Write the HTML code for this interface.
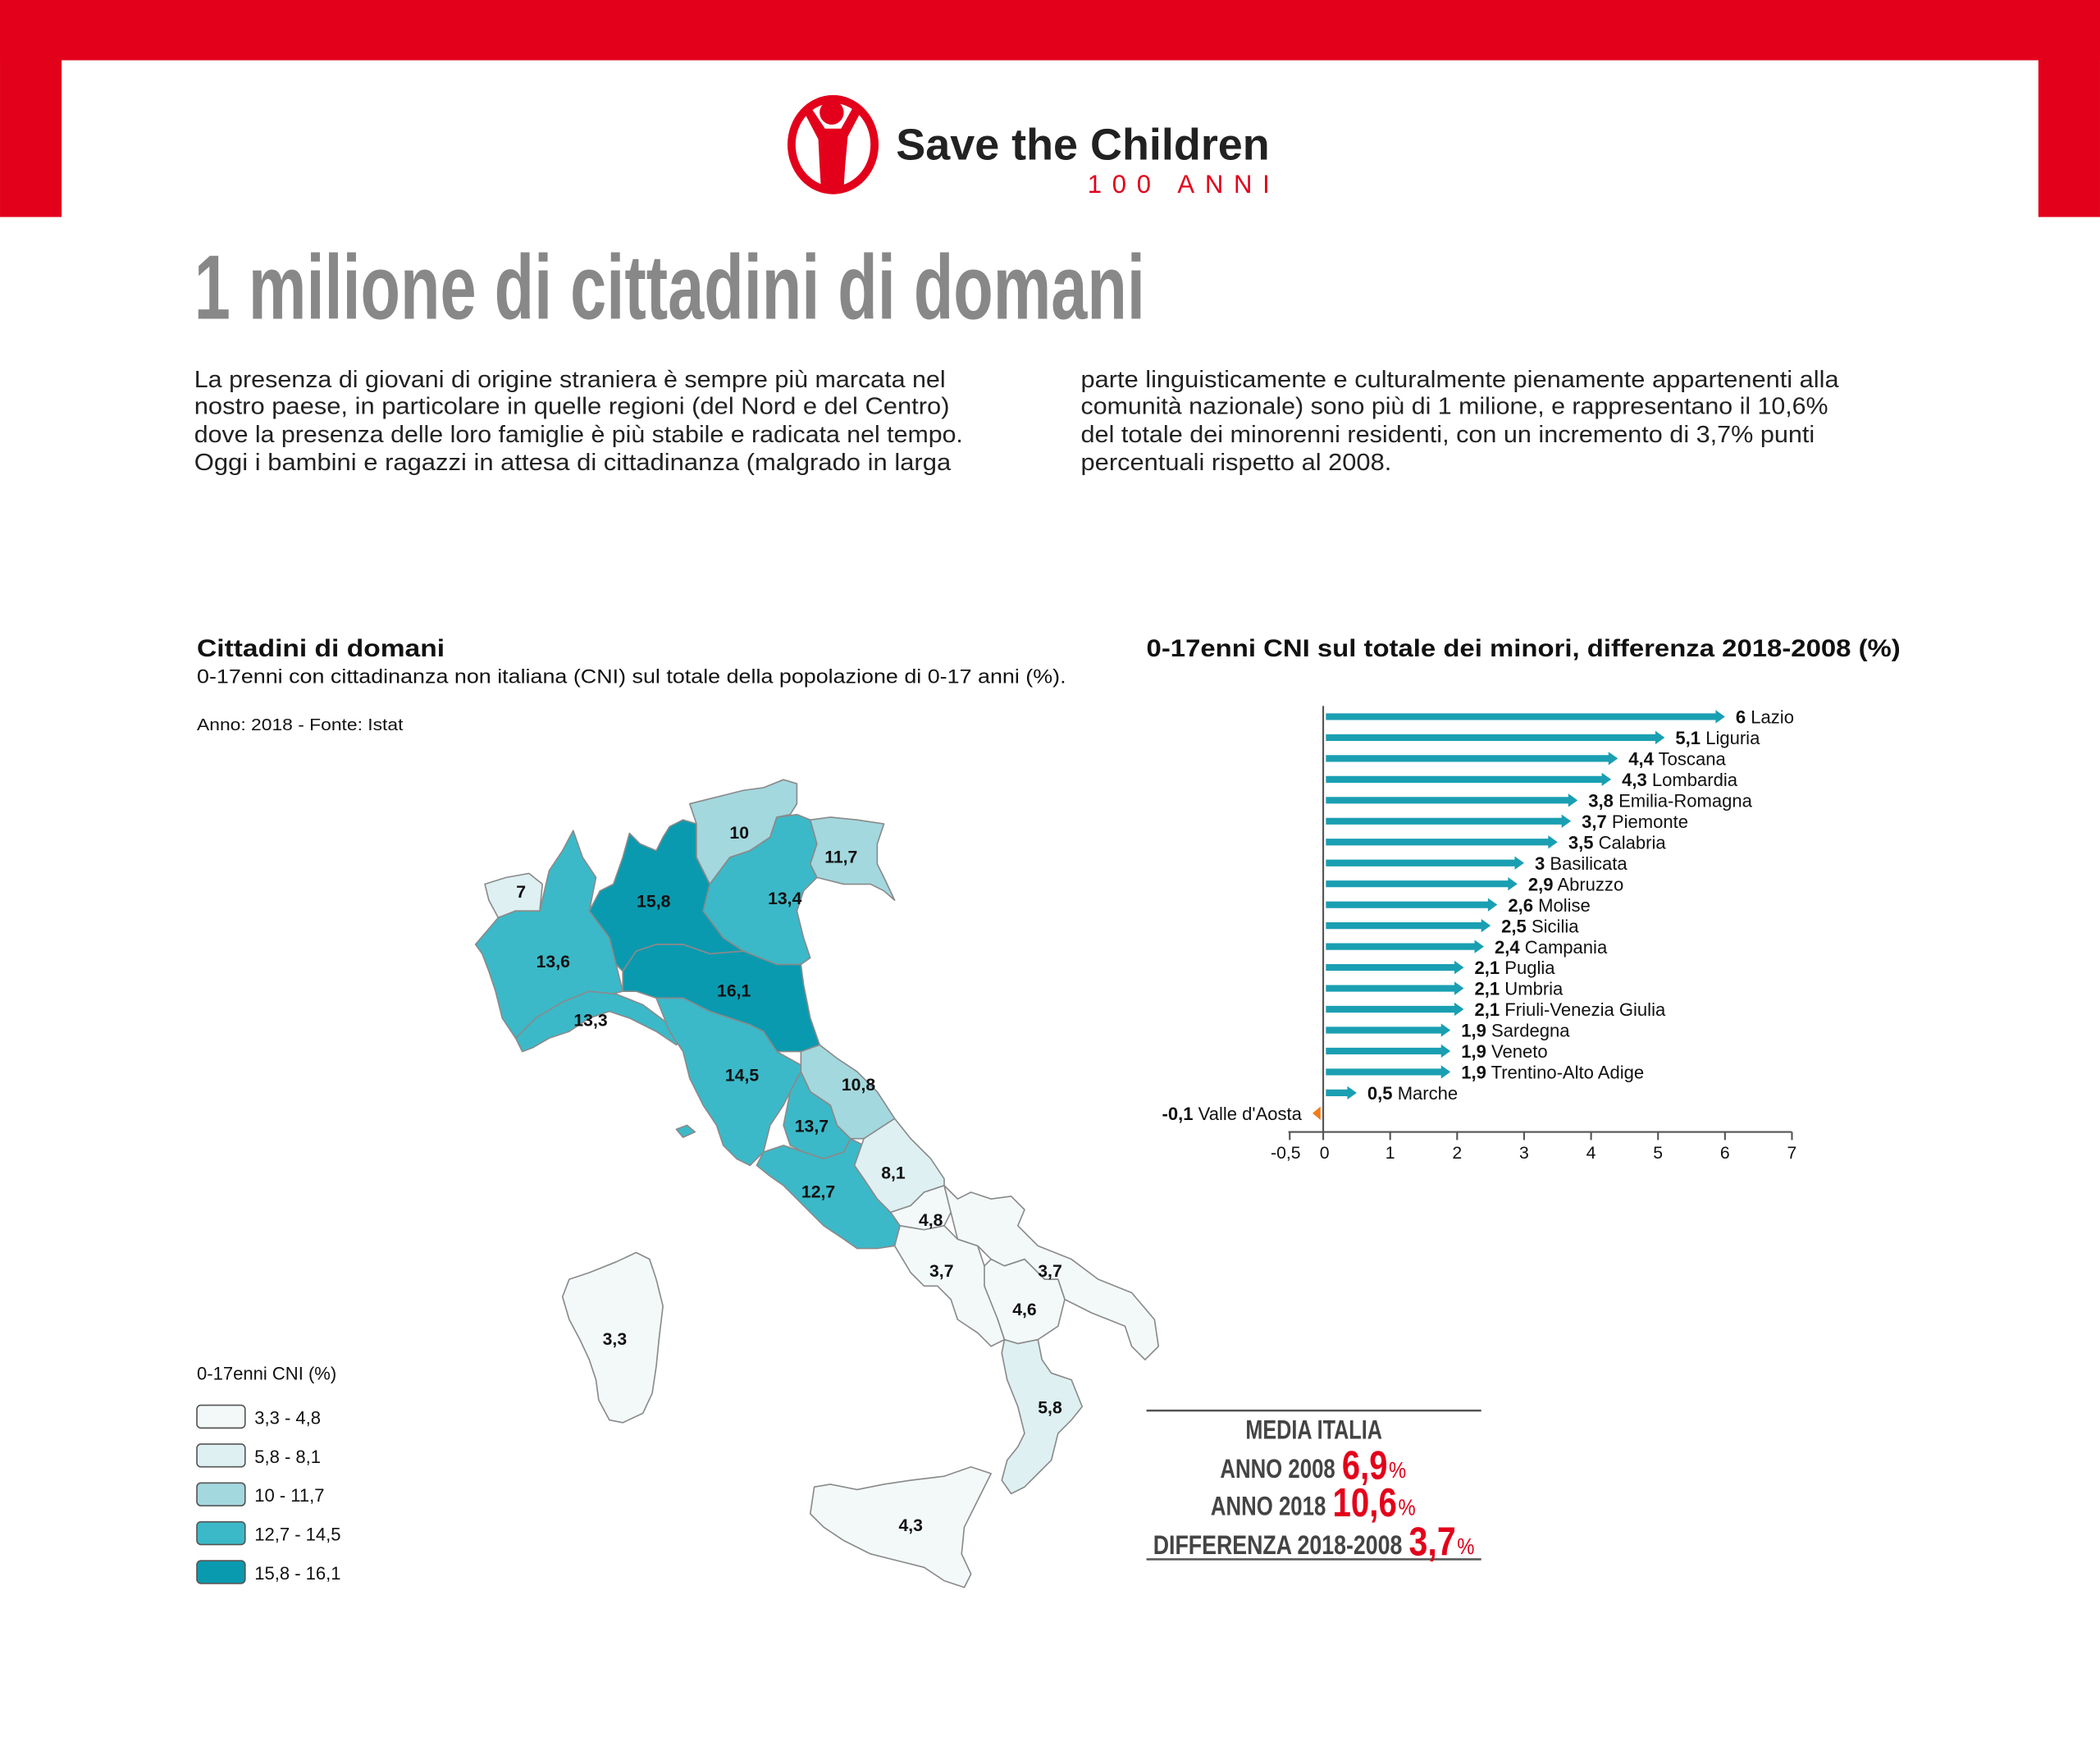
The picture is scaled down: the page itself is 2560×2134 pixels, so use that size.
<!DOCTYPE html>
<html><head><meta charset="utf-8">
<style>html,body{margin:0;padding:0;background:#fff}svg{display:block}</style>
</head><body>
<svg width="2560" height="2134" viewBox="0 0 1568 1307.1" xmlns="http://www.w3.org/2000/svg" font-family="'Liberation Sans', sans-serif">
<rect x="0" y="0" width="1568" height="1308" fill="#fff"/>
<rect x="0" y="0" width="1568" height="45" fill="#e2001a"/>
<rect x="0" y="0" width="46" height="162" fill="#e2001a"/>
<rect x="1522" y="0" width="46" height="162" fill="#e2001a"/>

<!-- logo -->
<ellipse cx="622" cy="108" rx="31" ry="34" fill="none" stroke="#e2001a" stroke-width="6"/>
<circle cx="621" cy="84" r="9" fill="#e2001a"/>
<path d="M600 83 L606 81 L616 96 L628 96 L637 80 L643 83 L633 102 L631 124 L630 140 L613 140 L612 124 L611 104 Z" fill="#e2001a"/>
<text x="669" y="119" font-size="33" font-weight="bold" fill="#222" textLength="279" lengthAdjust="spacingAndGlyphs">Save the Children</text>
<text x="812" y="144" font-size="19" fill="#e2001a" textLength="136" lengthAdjust="spacing">100 ANNI</text>

<!-- headline -->
<text x="145" y="238" font-size="68" font-weight="bold" fill="#888" textLength="710" lengthAdjust="spacingAndGlyphs">1 milione di cittadini di domani</text>

<g font-size="17.5" fill="#222">
<text x="145" y="289" textLength="561" lengthAdjust="spacingAndGlyphs">La presenza di giovani di origine straniera è sempre più marcata nel</text>
<text x="145" y="309" textLength="564" lengthAdjust="spacingAndGlyphs">nostro paese, in particolare in quelle regioni (del Nord e del Centro)</text>
<text x="145" y="330" textLength="574" lengthAdjust="spacingAndGlyphs">dove la presenza delle loro famiglie è più stabile e radicata nel tempo.</text>
<text x="145" y="351" textLength="565" lengthAdjust="spacingAndGlyphs">Oggi i bambini e ragazzi in attesa di cittadinanza (malgrado in larga</text>
<text x="807" y="289" textLength="566" lengthAdjust="spacingAndGlyphs">parte linguisticamente e culturalmente pienamente appartenenti alla</text>
<text x="807" y="309" textLength="558" lengthAdjust="spacingAndGlyphs">comunità nazionale) sono più di 1 milione, e rappresentano il 10,6%</text>
<text x="807" y="330" textLength="548" lengthAdjust="spacingAndGlyphs">del totale dei minorenni residenti, con un incremento di 3,7% punti</text>
<text x="807" y="351" textLength="232" lengthAdjust="spacingAndGlyphs">percentuali rispetto al 2008.</text>
</g>

<!-- left titles -->
<text x="147" y="490" font-size="18" font-weight="bold" fill="#111" textLength="185" lengthAdjust="spacingAndGlyphs">Cittadini di domani</text>
<text x="147" y="510" font-size="15" fill="#111" textLength="649" lengthAdjust="spacingAndGlyphs">0-17enni con cittadinanza non italiana (CNI) sul totale della popolazione di 0-17 anni (%).</text>
<text x="147" y="545" font-size="12.5" fill="#111" textLength="154" lengthAdjust="spacingAndGlyphs">Anno: 2018 - Fonte: Istat</text>

<!-- legend -->
<text x="147" y="1030" font-size="13.5" fill="#111">0-17enni CNI (%)</text>
<g stroke="#555" stroke-width="1">
<rect x="147" y="1049" width="36" height="17" rx="3" fill="#f3f8f8"/>
<rect x="147" y="1078" width="36" height="17" rx="3" fill="#dff0f2"/>
<rect x="147" y="1107" width="36" height="17" rx="3" fill="#a3d8df"/>
<rect x="147" y="1136" width="36" height="17" rx="3" fill="#3bb9c9"/>
<rect x="147" y="1165" width="36" height="17" rx="3" fill="#0a9aaf"/>
</g>
<g font-size="13.5" fill="#111">
<text x="190" y="1063">3,3 - 4,8</text>
<text x="190" y="1092">5,8 - 8,1</text>
<text x="190" y="1121">10 - 11,7</text>
<text x="190" y="1150">12,7 - 14,5</text>
<text x="190" y="1179">15,8 - 16,1</text>
</g>

<!-- map -->
<g stroke="#8a8a8a" stroke-width="1" stroke-linejoin="round">
<polygon fill="#dff0f2" points="362,660 378,655 395,652 405,660 403,680 385,680 372,685 365,672"/>
<polygon fill="#3bb9c9" points="355,705 372,685 385,680 403,680 410,650 420,635 428,620 435,640 445,655 440,680 455,700 460,720 465,740 445,745 430,748 420,760 400,768 395,780 385,775 375,760 370,740 365,725 360,712"/>
<polygon fill="#3bb9c9" points="385,775 400,760 420,748 440,740 460,742 480,750 500,765 510,775 505,780 490,770 470,760 455,755 440,760 425,770 410,775 398,782 390,785"/>
<polygon fill="#0a9aaf" points="440,680 448,665 458,660 465,640 470,622 478,630 490,635 495,625 500,617 510,612 520,615 520,640 530,660 525,680 540,700 555,710 530,712 510,705 490,705 475,710 465,725 460,720 455,700"/>
<polygon fill="#a3d8df" points="515,600 535,595 555,590 570,588 585,582 595,585 595,600 590,608 580,610 575,625 560,635 545,640 530,660 520,640 520,615"/>
<polygon fill="#3bb9c9" points="530,660 545,640 560,635 575,625 580,610 595,608 605,612 610,630 605,645 610,655 600,665 595,680 600,700 605,715 598,720 580,720 555,710 540,700 525,680"/>
<polygon fill="#a3d8df" points="605,612 620,610 640,612 660,615 655,630 655,645 660,655 668,672 660,665 650,660 630,660 610,655 605,645 610,630"/>
<polygon fill="#0a9aaf" points="465,725 475,710 490,705 510,705 530,712 555,710 580,720 598,720 600,735 605,760 612,780 600,785 580,785 570,770 560,765 545,760 530,755 510,745 490,745 475,740 465,740"/>
<polygon fill="#3bb9c9" points="490,745 510,745 530,755 545,760 560,765 570,770 580,785 598,795 598,800 590,815 585,825 575,840 570,860 560,870 550,865 540,855 535,840 525,825 515,805 510,785 500,770"/>
<polygon fill="#a3d8df" points="598,785 612,780 625,790 640,800 655,815 668,835 665,845 650,850 635,850 625,840 620,825 605,815 598,800"/>
<polygon fill="#3bb9c9" points="598,800 605,815 620,825 625,840 635,850 630,860 615,865 600,860 590,855 585,840 590,815"/>
<polygon fill="#3bb9c9" points="570,860 585,855 600,860 615,865 630,860 635,850 645,855 638,870 645,880 655,895 665,905 672,915 668,930 655,932 640,932 630,925 615,915 605,905 595,895 585,885 575,878 565,870"/>
<polygon fill="#dff0f2" points="645,850 668,835 680,850 695,865 705,880 705,885 690,890 680,900 665,905 655,895 645,880 638,870"/>
<polygon fill="#f3f8f8" points="665,905 680,900 690,890 705,885 715,895 710,905 705,915 690,918 672,915"/>
<polygon fill="#f3f8f8" points="668,930 672,915 690,918 705,915 715,925 730,930 735,945 740,965 745,985 750,1000 740,1005 730,995 715,985 710,970 700,960 690,960 680,950"/>
<polygon fill="#f3f8f8" points="705,885 715,895 725,890 740,895 755,893 765,903 760,915 775,930 800,940 820,955 845,965 862,985 865,1005 855,1015 845,1005 840,990 815,980 795,970 790,955 780,955 765,940 750,945 740,940 730,930 715,925 710,905"/>
<polygon fill="#f3f8f8" points="740,940 750,945 765,940 780,955 790,955 795,970 790,990 775,1000 760,1003 750,1000 745,985 735,960 735,945"/>
<polygon fill="#dff0f2" points="750,1000 760,1003 775,1000 778,1015 785,1025 800,1030 808,1050 800,1060 790,1070 785,1090 775,1100 765,1110 755,1115 748,1105 752,1090 760,1080 765,1070 760,1050 752,1030 748,1010"/>
<polygon fill="#f3f8f8" points="608,1110 620,1108 640,1112 660,1108 680,1105 705,1102 725,1095 740,1100 730,1120 720,1140 718,1160 725,1175 720,1185 705,1180 690,1170 670,1165 650,1160 630,1150 615,1140 605,1130"/>
<polygon fill="#f3f8f8" points="425,955 440,950 460,942 475,935 485,940 490,955 495,975 492,1000 490,1020 487,1040 480,1055 465,1062 455,1060 447,1045 445,1030 440,1015 433,1000 425,985 420,968"/>
<polygon fill="#3bb9c9" points="505,843 513,840 519,845 510,849"/>
</g>
<g font-size="13" font-weight="bold" fill="#111" text-anchor="middle">
<text x="389" y="670">7</text>
<text x="488" y="677">15,8</text>
<text x="552" y="626">10</text>
<text x="628" y="644">11,7</text>
<text x="586" y="675">13,4</text>
<text x="413" y="722">13,6</text>
<text x="548" y="744">16,1</text>
<text x="441" y="766">13,3</text>
<text x="554" y="807">14,5</text>
<text x="641" y="814">10,8</text>
<text x="606" y="845">13,7</text>
<text x="667" y="880">8,1</text>
<text x="611" y="894">12,7</text>
<text x="695" y="915">4,8</text>
<text x="703" y="953">3,7</text>
<text x="784" y="953">3,7</text>
<text x="765" y="982">4,6</text>
<text x="459" y="1004">3,3</text>
<text x="784" y="1055">5,8</text>
<text x="680" y="1143">4,3</text>
</g>

<!-- right chart -->
<text x="856" y="490" font-size="18" font-weight="bold" fill="#111" textLength="563" lengthAdjust="spacingAndGlyphs">0-17enni CNI sul totale dei minori, differenza 2018-2008 (%)</text>
<g fill="#1a9fb2">
<path d="M990 532.5H1281V530L1288 535L1281 540V537.5H990Z"/>
<path d="M990 548.1H1236V545.6L1243 550.6L1236 555.6V553.1H990Z"/>
<path d="M990 563.7H1201V561.2L1208 566.2L1201 571.2V568.7H990Z"/>
<path d="M990 579.3H1196V576.8L1203 581.8L1196 586.8V584.3H990Z"/>
<path d="M990 594.9H1171V592.4L1178 597.4L1171 602.4V599.9H990Z"/>
<path d="M990 610.5H1166V608L1173 613L1166 618V615.5H990Z"/>
<path d="M990 626.1H1156V623.6L1163 628.6L1156 633.6V631.1H990Z"/>
<path d="M990 641.7H1131V639.2L1138 644.2L1131 649.2V646.7H990Z"/>
<path d="M990 657.3H1126V654.8L1133 659.8L1126 664.8V662.3H990Z"/>
<path d="M990 672.9H1111V670.4L1118 675.4L1111 680.4V677.9H990Z"/>
<path d="M990 688.5H1106V686L1113 691L1106 696V693.5H990Z"/>
<path d="M990 704.1H1101V701.6L1108 706.6L1101 711.6V709.1H990Z"/>
<path d="M990 719.7H1086V717.2L1093 722.2L1086 727.2V724.7H990Z"/>
<path d="M990 735.3H1086V732.8L1093 737.8L1086 742.8V740.3H990Z"/>
<path d="M990 750.9H1086V748.4L1093 753.4L1086 758.4V755.9H990Z"/>
<path d="M990 766.5H1076V764L1083 769L1076 774V771.5H990Z"/>
<path d="M990 782.1H1076V779.6L1083 784.6L1076 789.6V787.1H990Z"/>
<path d="M990 797.7H1076V795.2L1083 800.2L1076 805.2V802.7H990Z"/>
<path d="M990 813.3H1006V810.8L1013 815.8L1006 820.8V818.3H990Z"/>
</g>
<path d="M986 826L980 831L986 836Z" fill="#f07d1a"/>
<g font-size="13.5" fill="#111">
<text x="1296" y="540"><tspan font-weight="bold">6</tspan> Lazio</text>
<text x="1251" y="555.6"><tspan font-weight="bold">5,1</tspan> Liguria</text>
<text x="1216" y="571.2"><tspan font-weight="bold">4,4</tspan> Toscana</text>
<text x="1211" y="586.8"><tspan font-weight="bold">4,3</tspan> Lombardia</text>
<text x="1186" y="602.4"><tspan font-weight="bold">3,8</tspan> Emilia-Romagna</text>
<text x="1181" y="618"><tspan font-weight="bold">3,7</tspan> Piemonte</text>
<text x="1171" y="633.6"><tspan font-weight="bold">3,5</tspan> Calabria</text>
<text x="1146" y="649.2"><tspan font-weight="bold">3</tspan> Basilicata</text>
<text x="1141" y="664.8"><tspan font-weight="bold">2,9</tspan> Abruzzo</text>
<text x="1126" y="680.4"><tspan font-weight="bold">2,6</tspan> Molise</text>
<text x="1121" y="696"><tspan font-weight="bold">2,5</tspan> Sicilia</text>
<text x="1116" y="711.6"><tspan font-weight="bold">2,4</tspan> Campania</text>
<text x="1101" y="727.2"><tspan font-weight="bold">2,1</tspan> Puglia</text>
<text x="1101" y="742.8"><tspan font-weight="bold">2,1</tspan> Umbria</text>
<text x="1101" y="758.4"><tspan font-weight="bold">2,1</tspan> Friuli-Venezia Giulia</text>
<text x="1091" y="774"><tspan font-weight="bold">1,9</tspan> Sardegna</text>
<text x="1091" y="789.6"><tspan font-weight="bold">1,9</tspan> Veneto</text>
<text x="1091" y="805.2"><tspan font-weight="bold">1,9</tspan> Trentino-Alto Adige</text>
<text x="1021" y="820.8"><tspan font-weight="bold">0,5</tspan> Marche</text>
<text x="972" y="836" text-anchor="end"><tspan font-weight="bold">-0,1</tspan> Valle d'Aosta</text>
</g>
<g stroke="#555" stroke-width="1.3">
<line x1="988" y1="527" x2="988" y2="845"/>
<line x1="962" y1="845" x2="1338" y2="845"/>
<line x1="963" y1="845" x2="963" y2="851"/>
<line x1="988" y1="845" x2="988" y2="851"/>
<line x1="1038" y1="845" x2="1038" y2="851"/>
<line x1="1088" y1="845" x2="1088" y2="851"/>
<line x1="1138" y1="845" x2="1138" y2="851"/>
<line x1="1188" y1="845" x2="1188" y2="851"/>
<line x1="1238" y1="845" x2="1238" y2="851"/>
<line x1="1288" y1="845" x2="1288" y2="851"/>
<line x1="1338" y1="845" x2="1338" y2="851"/>
</g>
<g font-size="13" fill="#111" text-anchor="middle">
<text x="960" y="865">-0,5</text>
<text x="989" y="865">0</text>
<text x="1038" y="865">1</text>
<text x="1088" y="865">2</text>
<text x="1138" y="865">3</text>
<text x="1188" y="865">4</text>
<text x="1238" y="865">5</text>
<text x="1288" y="865">6</text>
<text x="1338" y="865">7</text>
</g>

<!-- media italia -->
<line x1="856" y1="1053" x2="1106" y2="1053" stroke="#555" stroke-width="1.5"/>
<line x1="856" y1="1164" x2="1106" y2="1164" stroke="#555" stroke-width="1.5"/>
<g font-weight="bold" fill="#444">
<text x="930" y="1074" font-size="20" textLength="102" lengthAdjust="spacingAndGlyphs">MEDIA ITALIA</text>
<text x="911" y="1103" font-size="20" textLength="86" lengthAdjust="spacingAndGlyphs">ANNO 2008</text>
<text x="1002" y="1104" font-size="30" fill="#e2001a" textLength="34" lengthAdjust="spacingAndGlyphs">6,9</text>
<text x="1037" y="1103" font-size="17" font-weight="normal" fill="#e2001a" textLength="13" lengthAdjust="spacingAndGlyphs">%</text>
<text x="904" y="1131" font-size="20" textLength="86" lengthAdjust="spacingAndGlyphs">ANNO 2018</text>
<text x="995" y="1132" font-size="30" fill="#e2001a" textLength="48" lengthAdjust="spacingAndGlyphs">10,6</text>
<text x="1044" y="1131" font-size="17" font-weight="normal" fill="#e2001a" textLength="13" lengthAdjust="spacingAndGlyphs">%</text>
<text x="861" y="1160" font-size="20" textLength="186" lengthAdjust="spacingAndGlyphs">DIFFERENZA 2018-2008</text>
<text x="1052" y="1161" font-size="30" fill="#e2001a" textLength="35" lengthAdjust="spacingAndGlyphs">3,7</text>
<text x="1088" y="1160" font-size="17" font-weight="normal" fill="#e2001a" textLength="13" lengthAdjust="spacingAndGlyphs">%</text>
</g>
</svg>
</body></html>
